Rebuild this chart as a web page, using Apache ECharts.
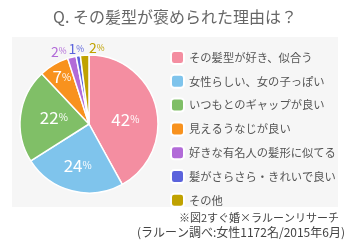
<!DOCTYPE html>
<html>
  <head>
    <meta charset="utf-8" />
    <title>ECharts</title>
    <script src="https://cdn.jsdelivr.net/npm/echarts@6/dist/echarts.min.js"></script>
  </head>
  <body style="margin:0">
    <div id="main" style="width: 350px;height:242px;"></div>
    <script type="text/javascript">
      var reasons = ['その髪型が好き、似合う', '女性らしい、女の子っぽい', 'いつもとのギャップが良い',
        '見えるうなじが良い', '好きな有名人の髪形に似てる', '髪がさらさら・きれいで良い', 'その他'];
      var percents = [42, 24, 22, 7, 2, 1, 2];
      var colors = ['#f48ea1', '#7fc4ec', '#80bf67', '#f8921e', '#b26bd8', '#5b63dc', '#c0a200'];

      var myChart = echarts.init(document.getElementById('main'));
      var font = '"Noto Sans CJK JP", sans-serif';

      var pieData = reasons.map(function (name, i) {
        var d = { name: name, value: percents[i], itemStyle: { color: colors[i] } };
        if (percents[i] < 5) {
          d.label = {
            position: 'outside',
            rich: {
              n: { fontSize: 14, color: colors[i], fontFamily: font },
              p: { fontSize: 8.5, color: colors[i], fontFamily: font }
            }
          };
        }
        return d;
      });

      // label nudges (dx, dy) so they sit like in the original
      var nudge = [[0, 5], [-2, 5], [2, -2], [-8, -15], [0, -5], [11, -6], [25, -6]];

      myChart.setOption({
        backgroundColor: '#fff',
        textStyle: { fontFamily: font },
        graphic: [{
          type: 'rect', left: 12, top: 37, z: -1,
          shape: { width: 326, height: 170 },
          style: { fill: '#f6f6f6' }
        }, {
          type: 'text', right: 11, top: 212,
          style: { text: '※図2すぐ婚×ラルーンリサーチ', fontSize: 11, fill: '#444', fontFamily: font }
        }, {
          type: 'text', right: 5, top: 226,
          style: { text: '(ラルーン調べ:女性1172名/2015年6月)', fontSize: 12, fill: '#444', fontFamily: font }
        }],
        title: {
          text: 'Q. その髪型が褒められた理由は？',
          left: 'center', top: 9, padding: 0,
          textStyle: { fontSize: 16, fontWeight: 'normal', color: '#666', fontFamily: font }
        },
        legend: {
          orient: 'vertical', left: 170, top: 50, padding: 0,
          icon: 'roundRect', itemWidth: 13, itemHeight: 13, itemGap: 8.8,
          textStyle: { fontSize: 11.3, lineHeight: 13, color: '#555', fontFamily: font },
          data: reasons
        },
        series: [{
          type: 'pie',
          center: [89, 124], radius: 69,
          startAngle: 90, clockwise: true,
          avoidLabelOverlap: false,
          itemStyle: { borderColor: '#fff', borderWidth: 1.5 },
          label: {
            position: 'inside',
            formatter: function (p) { return '{n|' + p.value + '}{p|%}'; },
            rich: {
              n: { fontSize: 17, color: '#fff', fontFamily: font },
              p: { fontSize: 10, color: '#fff', fontFamily: font }
            }
          },
          labelLine: { show: false, length: 1, length2: 0 },
          labelLayout: function (params) {
            var n = nudge[params.dataIndex];
            return { hideOverlap: false, dx: n[0], dy: n[1] };
          },
          data: pieData
        }]
      });
    </script>
  </body>
</html>
